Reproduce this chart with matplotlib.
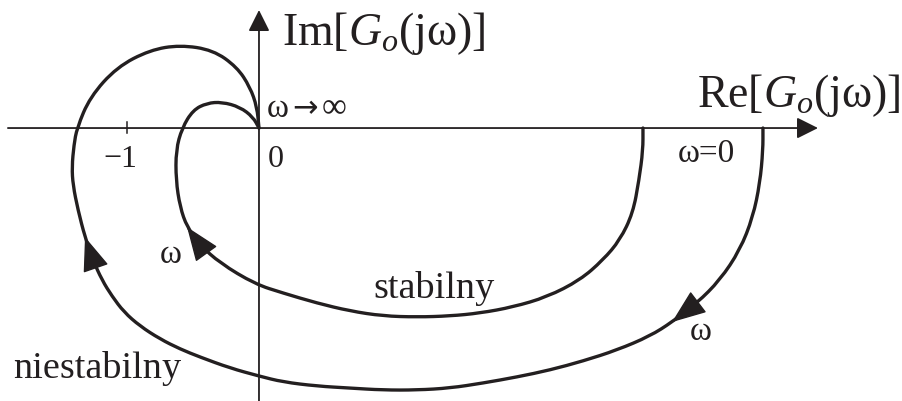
import numpy as np
import matplotlib
matplotlib.use("Agg")
import matplotlib.pyplot as plt
from matplotlib.path import Path
from matplotlib.patches import PathPatch, ArrowStyle

plt.rcParams['font.family'] = ['Liberation Serif', 'DejaVu Serif']
plt.rcParams['mathtext.fontset'] = 'custom'
plt.rcParams['mathtext.rm'] = 'Liberation Serif'
plt.rcParams['mathtext.it'] = 'Liberation Serif:italic'

INK = '#231f20'

# Nyquist locus of the stable open loop, from omega = 0 to omega -> infinity
stable_re = [2.909, 2.909, 2.879, 2.833, 2.735, 2.606, 2.432, 2.182, 1.924, 1.674,
             1.447, 1.197, 0.939, 0.689, 0.439, 0.182, -0.030, -0.295, -0.447, -0.545,
             -0.598, -0.629, -0.629, -0.583, -0.500, -0.394, -0.280, -0.144, -0.045, 0.0]
stable_im = [0.0, -0.167, -0.394, -0.644, -0.848, -1.000, -1.152, -1.280, -1.356, -1.402,
             -1.424, -1.432, -1.424, -1.386, -1.326, -1.250, -1.182, -1.023, -0.886, -0.750,
             -0.598, -0.394, -0.167, 0.0, 0.136, 0.189, 0.197, 0.159, 0.083, 0.0]

# Nyquist locus of the unstable open loop, from omega = 0 to omega -> infinity
unstable_re = [3.818, 3.818, 3.795, 3.742, 3.644, 3.492, 3.318, 3.129, 2.962, 2.712,
               2.455, 2.205, 1.955, 1.697, 1.447, 1.197, 0.939, 0.689, 0.439, 0.182,
               0.0, -0.220, -0.447, -0.598, -0.750, -0.902, -1.023, -1.114, -1.189, -1.258,
               -1.318, -1.371, -1.409, -1.417, -1.402, -1.379, -1.280, -1.076, -0.826, -0.598,
               -0.348, -0.167, -0.068, -0.015, 0.0]
unstable_im = [0.0, -0.167, -0.417, -0.674, -0.924, -1.152, -1.326, -1.470, -1.576, -1.682,
               -1.765, -1.833, -1.886, -1.932, -1.970, -1.985, -1.985, -1.970, -1.955, -1.924,
               -1.879, -1.818, -1.735, -1.674, -1.598, -1.500, -1.394, -1.273, -1.152, -1.000,
               -0.826, -0.621, -0.432, -0.295, -0.129, 0.0, 0.235, 0.462, 0.591, 0.629,
               0.591, 0.462, 0.311, 0.159, 0.0]

# index of the sample where each direction arrow points
stable_arrow_idx = [19]
unstable_arrow_idx = [7, 30]

tick_positions = [-1.0]
tick_labels = ['\u22121']


def smooth_path(xs, ys):
    pts = np.column_stack([xs, ys])
    verts = [pts[0], (pts[0] + pts[1]) / 2]
    codes = [Path.MOVETO, Path.LINETO]
    for i in range(1, len(pts) - 1):
        verts += [pts[i], (pts[i] + pts[i + 1]) / 2]
        codes += [Path.CURVE3, Path.CURVE3]
    verts.append(pts[-1])
    codes.append(Path.LINETO)
    return Path(verts, codes)


fig = plt.figure(figsize=(9.03, 4.01), dpi=100)
ax = fig.add_axes([0, 0, 1, 1])
ax.set_xlim(-1.962, 4.879)
ax.set_ylim(-2.068, 0.970)
ax.set_axis_off()

# coordinate axes with arrow heads
axis_head = ArrowStyle('-|>', head_length=13, head_width=6.5)
ax.annotate('', xy=(4.235, 0), xytext=(-1.902, 0),
            arrowprops=dict(arrowstyle=axis_head, lw=1.3, color=INK,
                            shrinkA=0, shrinkB=0, mutation_scale=1))
ax.annotate('', xy=(0, 0.894), xytext=(0, -2.2),
            arrowprops=dict(arrowstyle=axis_head, lw=1.3, color=INK,
                            shrinkA=0, shrinkB=0, mutation_scale=1))
for tp, tl in zip(tick_positions, tick_labels):
    ax.plot([tp, tp], [0.045, -0.038], color=INK, lw=1.1)
    ax.text(tp - 0.053, -0.295, tl, fontsize=23, color=INK, ha='center', va='baseline')
ax.text(0.068, -0.295, '0', fontsize=23, color=INK, ha='left', va='baseline')

# the two loci
curve_head = ArrowStyle('-|>', head_length=22, head_width=8.5)
for re, im, idxs in ((stable_re, stable_im, stable_arrow_idx),
                     (unstable_re, unstable_im, unstable_arrow_idx)):
    ax.add_patch(PathPatch(smooth_path(re, im), fill=False, lw=2.4,
                           edgecolor=INK, capstyle='round', joinstyle='round'))
    for i in idxs:
        ax.annotate('', xy=(re[i], im[i]), xytext=(re[i - 1], im[i - 1]),
                    arrowprops=dict(arrowstyle=curve_head, lw=1.0, color=INK,
                                    shrinkA=0, shrinkB=0, mutation_scale=1))

# axis titles and annotations
ax.text(0.174, 0.629, 'Im[$G_o$(j\u03c9)]', fontsize=33, color=INK, ha='left', va='baseline')
ax.text(3.318, 0.159, 'Re[$G_o$(j\u03c9)]', fontsize=33, color=INK, ha='left', va='baseline')
ax.text(0.061, 0.083, '\u03c9', fontsize=24, color=INK, ha='left', va='baseline')
ax.text(0.255, 0.083, '\u2192', fontsize=22, color=INK, ha='left', va='baseline',
        family=['DejaVu Sans'])
ax.text(0.477, 0.083, '\u221e', fontsize=25, color=INK, ha='left', va='baseline')
ax.text(3.174, -0.258, '\u03c9=0', fontsize=24, color=INK, ha='left', va='baseline')
ax.text(-0.75, -1.023, '\u03c9', fontsize=24, color=INK, ha='left', va='baseline')
ax.text(3.265, -1.606, '\u03c9', fontsize=24, color=INK, ha='left', va='baseline')
ax.text(0.864, -1.288, 'stabilny', fontsize=27.5, color=INK, ha='left', va='baseline')
ax.text(-1.864, -1.894, 'niestabilny', fontsize=27.5, color=INK, ha='left', va='baseline')

fig.savefig('out.png', dpi=100, facecolor='white')
